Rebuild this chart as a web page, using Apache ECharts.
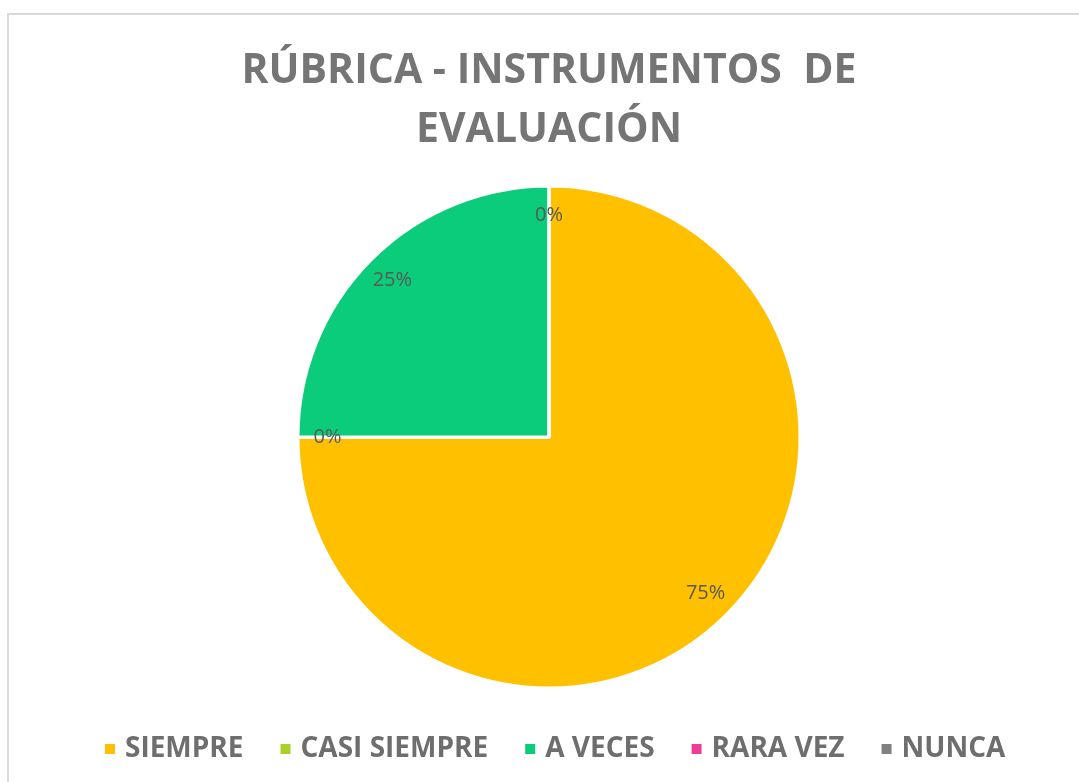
<!DOCTYPE html>
<html><head><meta charset="utf-8">
<script src="https://cdn.jsdelivr.net/npm/echarts@6/dist/echarts.min.js"></script>
<style>html,body{margin:0;padding:0;background:#fff;}#c{width:1079px;height:782px;}</style>
</head><body><div id="c"></div>
<script>
const titleText = 'RÚBRICA - INSTRUMENTOS  DE\nEVALUACIÓN';
const categories = ['SIEMPRE', 'CASI SIEMPRE', 'A VECES', 'RARA VEZ', 'NUNCA'];
const values = [75, 0, 25, 0, 0];
const colors = ['#FFC000', '#A9D12A', '#0ACC7A', '#EE3D96', '#808080'];

const data = categories.map((n, i) => ({ name: n, value: values[i], itemStyle: { color: colors[i] } }));
const labelData = categories.map((n, i) => ({ name: n, value: values[i] }));

const chart = echarts.init(document.getElementById('c'));
chart.setOption({
  animation: false,
  backgroundColor: '#fff',
  graphic: [{ type: 'rect', shape: { x: 8, y: 14, width: 1100, height: 800 }, style: { fill: 'none', stroke: '#D9D9D9', lineWidth: 2 }, silent: true }],
  title: {
    text: titleText, left: 544, textAlign: 'center', top: 37,
    textStyle: { fontFamily: 'Open Sans', fontWeight: 'bold', fontSize: 41, color: '#757575', lineHeight: 59 }
  },
  legend: {
    bottom: 14, left: 98, icon: 'rect', itemWidth: 12, itemHeight: 12, itemGap: 35,
    data: categories,
    textStyle: { fontFamily: 'Open Sans', fontWeight: 'bold', fontSize: 28, color: '#6E6E6E', padding: [0, 0, 0, 4] }
  },
  series: [
    {
      type: 'pie', center: [549, 437], radius: [0, 251], startAngle: 90, clockwise: true,
      label: { show: false }, labelLine: { show: false },
      itemStyle: { borderColor: '#fff', borderWidth: 3 },
      emphasis: { disabled: true },
      data: data
    },
    {
      type: 'pie', center: [549, 437], radius: [186, 251], startAngle: 90, clockwise: true, silent: true,
      itemStyle: { color: 'transparent', borderWidth: 0 },
      label: { show: true, position: 'inside', formatter: '{d}%', fontFamily: 'Open Sans', fontSize: 20, color: '#595959' },
      labelLine: { show: false },
      emphasis: { disabled: true },
      data: labelData
    }
  ]
});
</script></body></html>
